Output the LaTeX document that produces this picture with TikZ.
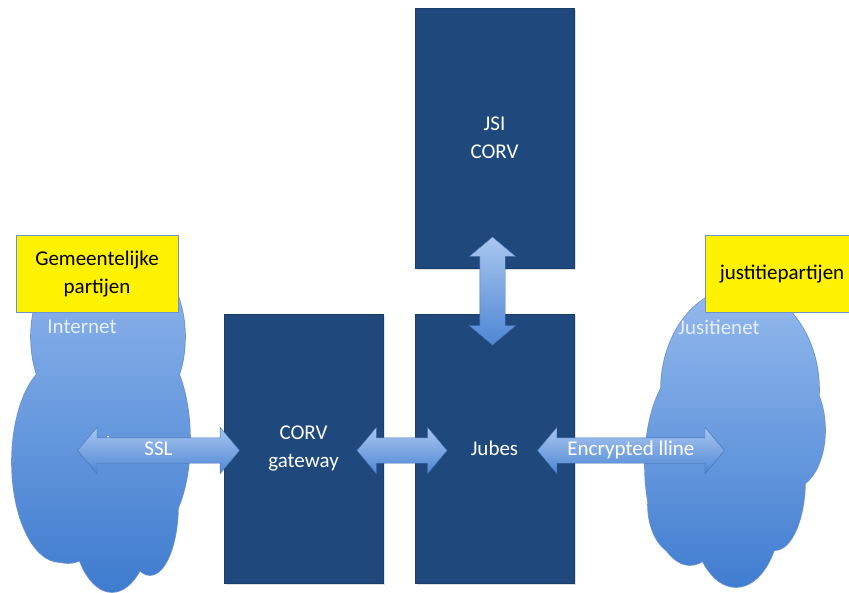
\documentclass[tikz,border=0pt]{standalone}
\usepackage{fontspec}
\setmainfont{Carlito}
\usetikzlibrary{shapes.arrows, positioning, calc, shadows}
\definecolor{boxblue}{HTML}{1F497D}
\definecolor{cloudtop}{HTML}{95BAEE}
\definecolor{cloudbot}{HTML}{3E7BCF}
\definecolor{cloudline}{HTML}{6A92CC}
\definecolor{arrtop}{HTML}{A9C7F0}
\definecolor{arrbot}{HTML}{4F86D4}
\definecolor{cloudtxt}{HTML}{E6EEF8}
\def\inetparts{108/337/77/98, 60/462/48/100, 150/440/40/95, 112/515/40/77, 150/505/28/70, 68/505/40/58}
\def\jnetparts{740/390/79/102, 690/465/45/100, 792/430/33/58, 736/512/44/75, 775/480/30/70, 680/505/32/50}

\begin{document}
\begin{tikzpicture}[x=1pt, y=-1pt,
  box/.style={draw=boxblue!85!black, fill=boxblue, text=white, inner sep=0pt,
              minimum width=159pt, align=center, font=\fontsize{21}{28}\selectfont,
              drop shadow={shadow xshift=2pt, shadow yshift=-2pt, opacity=0.25}},
  tag/.style={draw=cloudline, fill=yellow, minimum height=77pt, align=center,
              font=\fontsize{21}{28}\selectfont},
  cloudtext/.style={text=cloudtxt, inner sep=0pt, font=\fontsize{21}{25}\selectfont},
  cloudedge/.style={draw=cloudline, line width=1.6pt},
  cloudfill/.style={top color=cloudtop, bottom color=cloudbot},
  dblarr/.style={double arrow, draw=arrbot!85!black, thin, top color=arrtop, bottom color=arrbot,
                 minimum width=10pt, double arrow head extend=10.5pt, double arrow tip angle=100,
                 inner xsep=0pt, inner ysep=2pt, text height=15pt, text depth=6pt,
                 text=white, font=\fontsize{21}{25}\selectfont},
]
\useasboundingbox (0,0) rectangle (849,592);

\draw[cloudedge] \foreach \cx/\cy/\rx/\ry in \inetparts {(\cx,\cy) ellipse [x radius=\rx pt, y radius=\ry pt]};
\begin{scope}
  \clip \foreach \cx/\cy/\rx/\ry in \inetparts {(\cx,\cy) ellipse [x radius=\rx pt, y radius=\ry pt]};
  \shade[cloudfill] (5,235) rectangle (200,595);
\end{scope}
\draw[cloudedge] \foreach \cx/\cy/\rx/\ry in \jnetparts {(\cx,\cy) ellipse [x radius=\rx pt, y radius=\ry pt]};
\begin{scope}
  \clip \foreach \cx/\cy/\rx/\ry in \jnetparts {(\cx,\cy) ellipse [x radius=\rx pt, y radius=\ry pt]};
  \shade[cloudfill] (640,285) rectangle (830,595);
\end{scope}

\node[tag, minimum width=162pt] (gem) at (97,274) {Gemeentelijke\\partijen};
\node[tag, minimum width=154pt] (jus) at (782,274) {justitiepartijen};
\node[cloudtext] (inet) at (82,327) {Internet};
\node[cloudtext] (jnet) at (719,327) {Jusitienet};

\node[box, minimum height=260pt] (jsi) at (494.5,138) {JSI\\CORV};
\node[box, minimum height=269pt] (gw) at (303.5,448.5) {CORV\\gateway};
\node[box, minimum height=269pt] (jubes) at (494.5,448.5) {Jubes};

\node[dblarr, minimum height=162pt, anchor=east] (ssl) at ([xshift=16pt,yshift=-2pt]gw.west) {SSL};
\node[dblarr, minimum height=90pt] (link) at ($(gw.east)!0.5!(jubes.west)+(3,2)$) {};
\node[dblarr, minimum height=187pt, anchor=west] (enc) at ([xshift=-37pt,yshift=-2pt]jubes.east) {Encrypted lline};
\node[dblarr, minimum height=108pt, rotate=90] (up) at ($(jsi.south)!0.5!(jubes.north)+(-2,0)$) {};
\end{tikzpicture}
\end{document}
